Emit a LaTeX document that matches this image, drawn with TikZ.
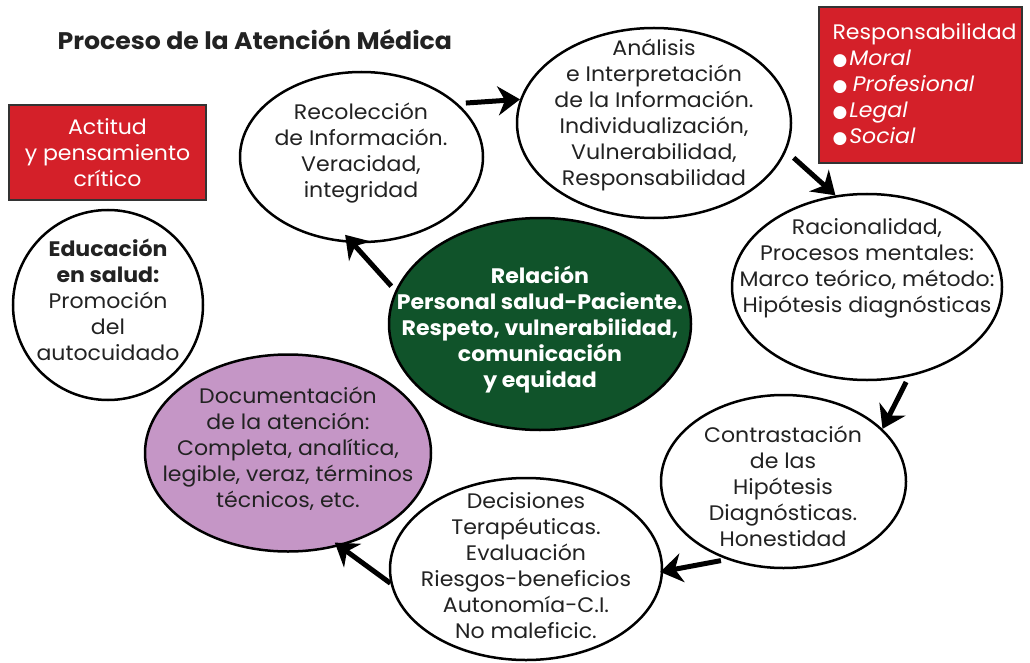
\documentclass[tikz,border=0pt]{standalone}
\usepackage{fontspec}
\setmainfont{Poppins}[FakeStretch=1.05]
\newfontfamily\symfont{DejaVu Sans}
\usetikzlibrary{arrows.meta,shapes.geometric,calc}
\definecolor{redbox}{HTML}{D42029}
\definecolor{greenbox}{HTML}{10532A}
\definecolor{purplebox}{HTML}{C596C6}
\definecolor{ink}{HTML}{222222}
\newcommand{\blt}{{\symfont\fontsize{17}{26}\selectfont ●}\hspace{2pt}}
\begin{document}
\begin{tikzpicture}[x=1pt,y=-1pt,
  bubble/.style={ellipse, draw=black, line width=2.5pt, fill=white, inner sep=0pt},
  txt/.style={align=center, font=\fontsize{21}{26}\selectfont, text=ink},
  flow/.style={line width=5pt, -{Stealth[length=22pt,width=29pt,inset=7pt]}},
  redrect/.style={draw=black!80, line width=2.5pt, fill=redbox, inner sep=0pt}
]
\useasboundingbox (0,0) rectangle (1030,663);

% title
\node[font=\bfseries\fontsize{24}{28}\selectfont, text=ink, anchor=west] (title) at (54,40) {Proceso de la Atención Médica};

% red boxes
\node[redrect, minimum width=197pt, minimum height=95pt, text=white, align=center, font=\fontsize{21}{26}\selectfont] (act) at (107.5,152.5) {Actitud\\y pensamiento\\crítico};
\node[redrect, minimum width=203pt, minimum height=156pt] (resp) at (920.5,85) {};
\node[anchor=west, align=left, text=white, font=\fontsize{21}{26}\selectfont] (resptxt) at (829,85) {Responsabilidad\\\blt\textit{Moral}\\\blt\,\textit{Profesional}\\\blt\textit{Legal}\\\blt\textit{Social}};

% ellipses
\node[bubble, minimum width=243pt, minimum height=170pt] (rec) at (361.5,157) {};
\node[bubble, minimum width=274pt, minimum height=190pt] (ana) at (654,123) {};
\node[bubble, minimum width=270pt, minimum height=186pt] (rac) at (867,287) {};
\node[bubble, minimum width=245pt, minimum height=173pt] (con) at (783.5,481.5) {};
\node[bubble, minimum width=272pt, minimum height=182pt] (dec) at (526,569) {};
\node[bubble, fill=purplebox, minimum width=286pt, minimum height=197pt] (doc) at (288,453) {};
\node[bubble, minimum width=190pt, minimum height=190pt] (edu) at (108,305) {};
\node[bubble, fill=greenbox, minimum width=302pt, minimum height=212pt] (rel) at (540,324) {};

% texts
\node[txt] (rect) at (361,153) {Recolección\\de Información.\\Veracidad,\\integridad};
\node[txt] (anat) at (654,115.5) {Análisis\\e Interpretación\\de la Información.\\Individualización,\\Vulnerabilidad,\\Responsabilidad};
\node[txt] (ract) at (867,268) {Racionalidad,\\Procesos mentales:\\Marco teórico, método:\\Hipótesis diagnósticas};
\node[txt] (cont) at (783,486) {Contrastación\\de las\\Hipótesis\\Diagnósticas.\\Honestidad};
\node[txt] (dect) at (526,566) {Decisiones\\Terapéuticas.\\Evaluación\\Riesgos-beneficios\\Autonomía-C.I.\\No maleficic.};
\node[txt] (doct) at (288,449) {Documentación\\de la atención:\\Completa, analítica,\\legible, veraz, términos\\técnicos, etc.};
\node[txt] (edut) at (108,300) {\textbf{Educación}\\\textbf{en salud:}\\Promoción\\del\\autocuidado};
\node[txt, text=white, font=\bfseries\fontsize{21}{26}\selectfont] (relt) at (540,330) {Relación\\Personal salud-Paciente.\\Respeto, vulnerabilidad,\\comunicación\\y equidad};

% arrows
\draw[flow, shorten <=8pt] (rec.29) -- (ana.170);
\draw[flow, shorten <=10pt] (ana.-12) -- (rac.109);
\draw[flow, shorten <=6pt] (rac.-65) -- (con.28);
\draw[flow, shorten <=6pt, shorten >=-3pt] (con.234) -- (dec.-1);
\draw[flow, shorten >=-6pt] (dec.186) -- (doc.-61);
\draw[flow, shorten <=6pt, shorten >=-11pt] (rel.167) -- (rec.264);
\end{tikzpicture}
\end{document}
